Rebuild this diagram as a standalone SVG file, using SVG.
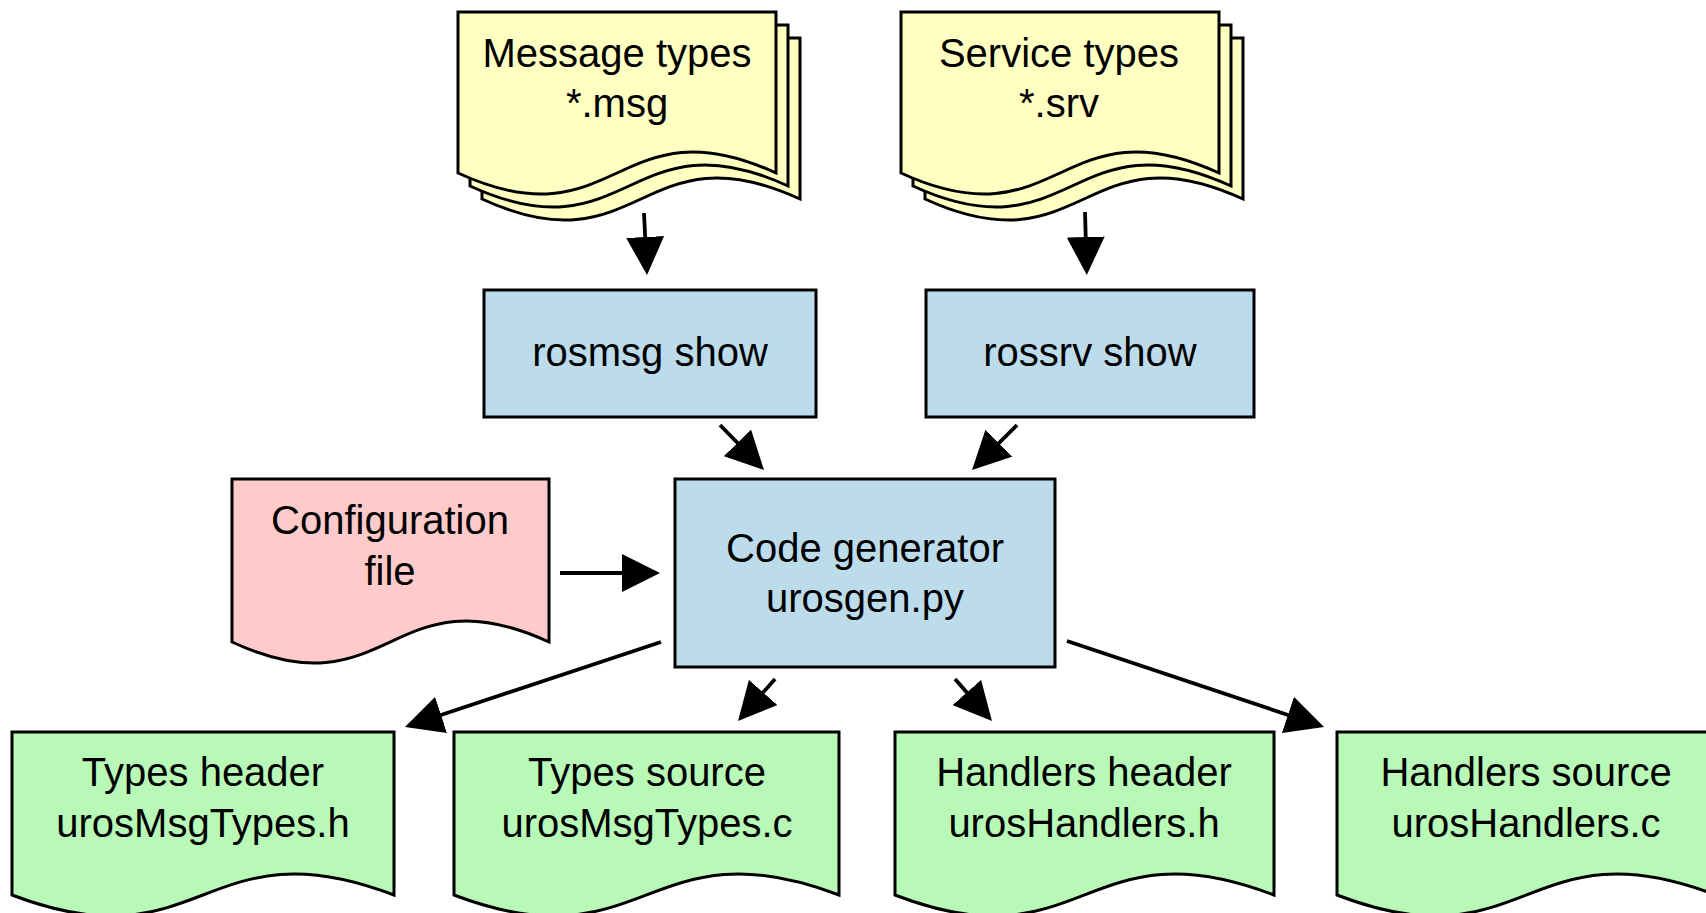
<svg xmlns="http://www.w3.org/2000/svg" width="1706" height="913" viewBox="0 0 1706 913">
<style>
.stroke{stroke:#000;stroke-width:3;stroke-linejoin:miter}
.yel{fill:#ffffc2}
.blue{fill:#bcdcec}
.pink{fill:#ffcaca}
.green{fill:#b8f9b8}
.t{font-family:"Liberation Sans",Arial,sans-serif;font-size:40px;fill:#000;text-anchor:middle}
.conn{stroke:#000;stroke-width:3.8;fill:none}
</style>
<defs>
<marker id="ah" viewBox="0 0 38 38" refX="27" refY="19" markerWidth="38" markerHeight="38" markerUnits="userSpaceOnUse" orient="auto">
<path d="M0,0 L38,19 L0,38 z" fill="#000"/>
</marker>
</defs>
<rect width="1706" height="913" fill="#fff"/>

<g id="msg-types">
<path class="stroke yel" d="M482,38 H800 V199 C641,126 641,272 482,199 Z"/>
<path class="stroke yel" d="M470,25 H788 V186 C629,113 629,259 470,186 Z"/>
<path class="stroke yel" d="M458,12 H776 V173 C617,100 617,246 458,173 Z"/>
<text class="t" x="617" y="67">Message types</text>
<text class="t" x="617" y="117">*.msg</text>
</g>

<g id="srv-types">
<path class="stroke yel" d="M925,38 H1243 V199 C1084,126 1084,272 925,199 Z"/>
<path class="stroke yel" d="M913,25 H1231 V186 C1072,113 1072,259 913,186 Z"/>
<path class="stroke yel" d="M901,12 H1219 V173 C1060,100 1060,246 901,173 Z"/>
<text class="t" x="1059" y="67">Service types</text>
<text class="t" x="1059" y="117">*.srv</text>
</g>

<g id="rosmsg">
<rect class="stroke blue" x="484" y="290" width="332" height="127"/>
<text class="t" x="650" y="366">rosmsg show</text>
</g>

<g id="rossrv">
<rect class="stroke blue" x="926" y="290" width="328" height="127"/>
<text class="t" x="1090" y="366">rossrv show</text>
</g>

<g id="config">
<path class="stroke pink" d="M232,479 H549 V642 C390,569 390,715 232,642 Z"/>
<text class="t" x="390" y="534">Configuration</text>
<text class="t" x="390" y="585">file</text>
</g>

<g id="codegen">
<rect class="stroke blue" x="675" y="479" width="380" height="188"/>
<text class="t" x="865" y="562">Code generator</text>
<text class="t" x="865" y="612">urosgen.py</text>
</g>

<g id="types-header">
<path class="stroke green" d="M12,732 H394 V895 C203,822 203,968 12,895 Z"/>
<text class="t" x="203" y="786">Types header</text>
<text class="t" x="203" y="837">urosMsgTypes.h</text>
</g>

<g id="types-source">
<path class="stroke green" d="M454,732 H839 V895 C646,822 646,968 454,895 Z"/>
<text class="t" x="647" y="786">Types source</text>
<text class="t" x="647" y="837">urosMsgTypes.c</text>
</g>

<g id="handlers-header">
<path class="stroke green" d="M895,732 H1274 V895 C1084,822 1084,968 895,895 Z"/>
<text class="t" x="1084" y="786">Handlers header</text>
<text class="t" x="1084" y="837">urosHandlers.h</text>
</g>

<g id="handlers-source">
<path class="stroke green" d="M1337,732 H1716 V895 C1526,822 1526,968 1337,895 Z"/>
<text class="t" x="1526" y="786">Handlers source</text>
<text class="t" x="1526" y="837">urosHandlers.c</text>
</g>

<g id="connectors">
<line class="conn" x1="644" y1="213" x2="646.5" y2="264" marker-end="url(#ah)"/>
<line class="conn" x1="1085" y1="212" x2="1086.5" y2="264" marker-end="url(#ah)"/>
<line class="conn" x1="720" y1="425" x2="756.3" y2="462.1" marker-end="url(#ah)"/>
<line class="conn" x1="1017" y1="425" x2="979.8" y2="462.2" marker-end="url(#ah)"/>
<line class="conn" x1="560" y1="573" x2="649" y2="573" marker-end="url(#ah)"/>
<line class="conn" x1="661" y1="642" x2="415.4" y2="723.5" marker-end="url(#ah)"/>
<line class="conn" x1="775" y1="679" x2="745.3" y2="712.7" marker-end="url(#ah)"/>
<line class="conn" x1="955" y1="679" x2="984.7" y2="712.7" marker-end="url(#ah)"/>
<line class="conn" x1="1067" y1="641" x2="1313.6" y2="723.5" marker-end="url(#ah)"/>
</g>
</svg>
